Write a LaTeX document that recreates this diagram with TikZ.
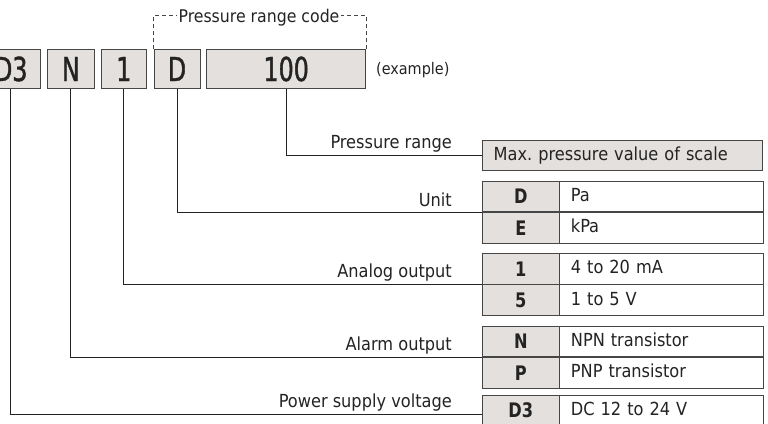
\documentclass[tikz,border=0pt]{standalone}
\usepackage{fontspec}
\setmainfont{DejaVu Sans Condensed}
\newfontfamily\tallfont[FakeStretch=0.8,FakeBold=1.2]{DejaVu Sans Condensed}
\newfontfamily\codefont[FakeStretch=0.9]{DejaVu Sans Condensed Bold}
\usepackage{xcolor}
\usepackage{tikz}
\usetikzlibrary{calc,positioning}
\definecolor{ink}{RGB}{35, 35, 35}
\definecolor{frame}{RGB}{70, 70, 70}
\definecolor{cellgray}{RGB}{228, 224, 221}

\tikzset{
  codebox/.style={draw=frame, fill=cellgray, line width=0.9pt, minimum height=38.5pt,
    inner sep=0pt, text=ink, font=\tallfont\fontsize{33}{33}\selectfont},
  codecell/.style={draw=frame, fill=cellgray, line width=0.9pt, minimum width=76.3pt,
    minimum height=30.5pt, inner sep=0pt, text=ink, font=\codefont\fontsize{20}{20}\selectfont},
  desccell/.style={draw=frame, fill=white, line width=0.9pt, minimum height=30.5pt,
    text width=182pt, inner xsep=11pt, inner ysep=0pt, align=left, text height=13pt,
    text depth=3pt, text=ink, font=\fontsize{18}{18}\selectfont},
  lbl/.style={anchor=base east, inner sep=0pt, text=ink, font=\fontsize{18}{18}\selectfont},
  wire/.style={draw=ink, line width=0.9pt},
  bracket/.style={draw=frame, line width=1pt, dash pattern=on 4pt off 3pt}
}

\begin{document}
\begin{tikzpicture}[x=1pt,y=-1pt]
\useasboundingbox (0,0) rectangle (768,423);
\clip (0,0) rectangle (768,423);
% model code boxes
\node[codebox, minimum width=59.7pt] (boxDiii) at (10.8,69) {D3};
\node[codebox, minimum width=46.3pt] (boxN) at (70.8,69) {N};
\node[codebox, minimum width=45.7pt] (boxI) at (123.8,69) {1};
\node[codebox, minimum width=46pt] (boxD) at (177,69) {D};
\node[codebox, minimum width=159pt] (boxC) at (286.2,69) {100};
\node[anchor=west, inner sep=0pt, text=ink, font=\fontsize{16}{16}\selectfont] (example) at (376,70) {(example)};
% pressure range code bracket
\node[inner xsep=1.5pt, inner ysep=0pt, text height=14pt, text depth=0pt, text=ink,
  font=\fontsize{17.5}{17.5}\selectfont] (prcode) at (259,15.7) {Pressure range code};
\draw[bracket] (boxD.north west) |- (prcode.west);
\draw[bracket] (boxC.north east) |- (prcode.east);

% pressure range
\node[codecell, fill=cellgray, minimum width=280pt, minimum height=30pt, text width=258pt,
  inner xsep=11pt, align=left, text height=13pt, text depth=3pt,
  font=\fontsize{18}{18}\selectfont] (maxp) at (622.7,155.5) {Max.\ pressure value of scale};
\node[lbl] (lblPR) at (452,148.5) {Pressure range};

% unit
\node[codecell] (unitD) at (520.85,196.45) {D};
\node[desccell, right=0pt of unitD] (unitDt) {Pa};
\node[codecell, below=0pt of unitD] (unitE) {E};
\node[desccell, right=0pt of unitE] (unitEt) {kPa};
\node[lbl] (lblU) at (452,206) {Unit};

% analog output
\node[codecell] (anaI) at (520.85,268.75) {1};
\node[desccell, right=0pt of anaI] (anaIt) {4 to 20 mA};
\node[codecell, below=0pt of anaI] (anaV) {5};
\node[desccell, right=0pt of anaV] (anaVt) {1 to 5 V};
\node[lbl] (lblA) at (452,277.5) {Analog output};

% alarm output
\node[codecell] (alrN) at (520.85,341.55) {N};
\node[desccell, right=0pt of alrN] (alrNt) {NPN transistor};
\node[codecell, below=0pt of alrN] (alrP) {P};
\node[desccell, right=0pt of alrP] (alrPt) {PNP transistor};
\node[lbl] (lblAl) at (452,350.5) {Alarm output};

% power supply voltage
\node[codecell] (pwrD) at (520.85,410.25) {D3};
\node[desccell, right=0pt of pwrD] (pwrDt) {DC 12 to 24 V};
\node[lbl] (lblP) at (452,407) {Power supply voltage};

% connectors
\draw[wire] (boxC.south) |- (maxp.west);
\draw[wire] (boxD.south) |- (unitE.north west);
\draw[wire] (boxI.south) |- (anaV.north west);
\draw[wire] (boxN.south) |- (alrP.north west);
\draw[wire] (boxDiii.south) |- ($(pwrD.west)+(0,4)$);
\end{tikzpicture}
\end{document}
